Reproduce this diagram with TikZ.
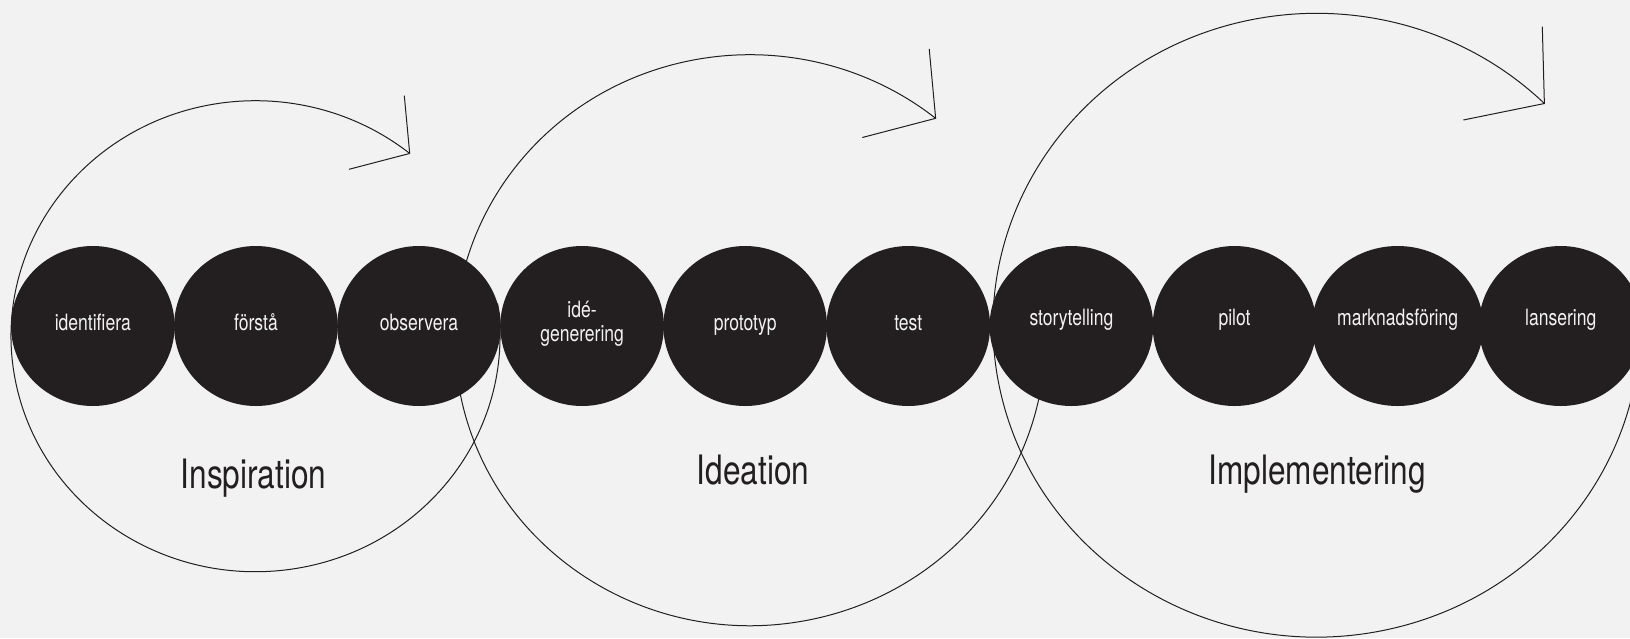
\documentclass[tikz,border=0pt]{standalone}
\usepackage{fontspec}
\newfontfamily\heros{TeX Gyre Heros}[FakeStretch=0.78]
\usetikzlibrary{calc, shapes.geometric}
\definecolor{paper}{HTML}{F2F2F2}
\definecolor{ink}{HTML}{231F20}

\begin{document}
\begin{tikzpicture}[x=1pt, y=-1pt,
	ring/.style={draw=ink, line width=1pt},
	phase/.style={font=\heros\fontsize{40.5}{44}\selectfont, text=ink, anchor=base, inner sep=0pt},
	dot/.style={ellipse, fill=ink, minimum width=163.6pt, minimum height=160pt, inner sep=0pt, text=paper,
		font=\heros\fontsize{22.5}{24.7}\selectfont, text height=16.3pt, text depth=7.7pt},
	high/.style={text depth=17.3pt}]
	\path[use as bounding box, clip] (0,0) rectangle (1630,638);
	\fill[paper] (0,0) rectangle (1630,638);
	\coordinate (C1) at (255.5,336.2);
	\coordinate (C2) at (750,340.2);
	\coordinate (C3) at (1316.7,325.2);
	\draw[ring] (C1) ++(-8:244.5 and 235.5) arc[start angle=-8, end angle=309.1, x radius=244.5, y radius=235.5] coordinate (T1);
	\draw[ring] (C2) ++(-12:295 and 285.5) arc[start angle=-12, end angle=309, x radius=295, y radius=285.5] coordinate (T2);
	\draw[ring] (C3) ++(-12:323.7 and 311.9) arc[start angle=-12, end angle=314.7, x radius=323.7, y radius=311.9] coordinate (T3);
	\coordinate (A1) at (404.3,95.7);
	\coordinate (B1) at (349,169.3);
	\coordinate (A2) at (929.2,48.8);
	\coordinate (B2) at (862.3,137.5);
	\coordinate (A3) at (1542.3,26.7);
	\coordinate (B3) at (1463.3,120);
	\draw[ring] (A1) -- (T1) -- (B1);
	\draw[ring] (A2) -- (T2) -- (B2);
	\draw[ring] (A3) -- (T3) -- (B3);
	\node[dot] (ident) at (92.8,326) {identifiera};
	\node[dot] (forsta) at (255.9,326) {förstå};
	\node[dot] (obs) at (419,326) {observera};
	\node[dot, align=center, text height=40pt, text depth=8.6pt] (idegen) at (582.1,326) {idé-\\generering};
	\node[dot] (proto) at (745.2,326) {prototyp};
	\node[dot] (test) at (908.3,326) {test};
	\node[dot, high] (story) at (1071.4,326) {storytelling};
	\node[dot, high] (pilot) at (1234.5,326) {pilot};
	\node[dot, high] (mark) at (1397.6,326) {marknadsföring};
	\node[dot, high] (lans) at (1560.7,326) {lansering};
	\node[phase] (insp) at (253.5,488) {Inspiration};
	\node[phase] (idea) at (753,484) {Ideation};
	\node[phase] (impl) at (1317,484) {Implementering};
\end{tikzpicture}
\end{document}
